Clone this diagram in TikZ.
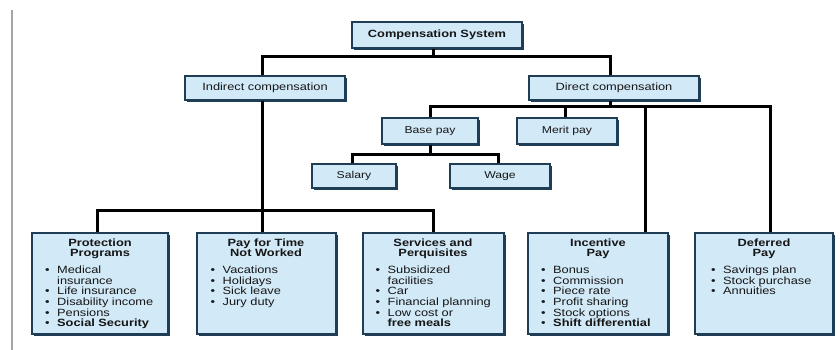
\documentclass[tikz,border=0pt]{standalone}
\usepackage{fontspec}
\newfontfamily\lab{Liberation Sans}[FakeStretch=1.22]
\usetikzlibrary{shadows}
\definecolor{boxblue}{HTML}{D2E9F7}
\definecolor{boxedge}{HTML}{1F3E56}
\definecolor{ink}{HTML}{161616}
\newcommand\bitem[1]{\par\hangindent=12pt\hangafter=1\noindent\makebox[12pt][l]{•}#1}
\begin{document}
\begin{tikzpicture}[x=1pt,y=-1pt,
  box/.style={draw=boxedge, fill=boxblue, line width=2pt,
    drop shadow={shadow xshift=2pt, shadow yshift=-2pt, fill=boxedge, opacity=1},
    inner sep=0pt, font=\lab\fontsize{10}{12}\selectfont, text=ink},
  bigbox/.style={box, minimum height=101pt},
  btitle/.style={anchor=north, inner sep=0pt, align=center, text=ink,
    font=\lab\bfseries\fontsize{10.5}{10.5}\selectfont},
  blist/.style={anchor=north west, inner sep=0pt, text=ink, font=\lab\fontsize{10.5}{10.7}\selectfont},
  wire/.style={line width=3pt, black}]
\useasboundingbox (0,0) rectangle (840,350);
\fill[white] (0,0) rectangle (840,350);
\draw[gray!70, line width=1.2pt] (12,10) -- (12,350);

% top levels
\node[box, minimum width=170pt, minimum height=26pt, font=\lab\bfseries\fontsize{10.5}{12}\selectfont] (comp) at (437,35) {Compensation System};
\node[box, minimum width=160pt, minimum height=24pt, font=\lab\fontsize{10.5}{12}\selectfont] (indirect) at (265,88) {Indirect compensation};
\node[box, minimum width=170pt, minimum height=24pt, font=\lab\fontsize{10.5}{12}\selectfont] (direct) at (614,88) {Direct compensation};
\node[box, minimum width=96pt, minimum height=25pt] (base) at (430,131) {Base pay};
\node[box, minimum width=100pt, minimum height=25pt] (merit) at (567,131) {Merit pay};
\node[box, minimum width=84pt, minimum height=24pt] (salary) at (354,176) {Salary};
\node[box, minimum width=100pt, minimum height=24pt] (wage) at (500,176) {Wage};

% bottom boxes
\node[bigbox, minimum width=136pt] (prot) at (100,283) {};
\node[bigbox, minimum width=139pt] (pay) at (266,283) {};
\node[bigbox, minimum width=141pt] (serv) at (433,283) {};
\node[bigbox, minimum width=140pt] (inc) at (598,283) {};
\node[bigbox, minimum width=138pt] (def) at (764,283) {};

\node[btitle] (protH) at ([yshift=-7pt]prot.north) {Protection\\Programs};
\node[blist, text width=118pt] (protT) at ([xshift=14pt,yshift=-31pt]prot.north west)
 {\raggedright\bitem{Medical\newline insurance}\bitem{Life insurance}\bitem{Disability income}
  \bitem{Pensions}\bitem{\bfseries Social Security}\par};
\node[btitle] (payH) at ([yshift=-7pt]pay.north) {Pay for Time\\Not Worked};
\node[blist, text width=118pt] (payT) at ([xshift=15pt,yshift=-31pt]pay.north west)
 {\raggedright\bitem{Vacations}\bitem{Holidays}\bitem{Sick leave}\bitem{Jury duty}\par};
\node[btitle] (servH) at ([yshift=-7pt]serv.north) {Services and\\Perquisites};
\node[blist, text width=122pt] (servT) at ([xshift=14pt,yshift=-31pt]serv.north west)
 {\raggedright\bitem{Subsidized\newline facilities}\bitem{Car}\bitem{Financial planning}
  \bitem{Low cost or\newline {\bfseries free meals}}\par};
\node[btitle] (incH) at ([yshift=-7pt]inc.north) {Incentive\\Pay};
\node[blist, text width=122pt] (incT) at ([xshift=14pt,yshift=-31pt]inc.north west)
 {\raggedright\bitem{Bonus}\bitem{Commission}\bitem{Piece rate}\bitem{Profit sharing}
  \bitem{Stock options}\bitem{\bfseries Shift differential}\par};
\node[btitle] (defH) at ([yshift=-7pt]def.north) {Deferred\\Pay};
\node[blist, text width=118pt] (defT) at ([xshift=17pt,yshift=-31pt]def.north west)
 {\raggedright\bitem{Savings plan}\bitem{Stock purchase}\bitem{Annuities}\par};

% connectors
\coordinate (j1) at (433,57);
\coordinate (j2) at (610,107);
\coordinate (j3) at (430,154);
\coordinate (j4) at (262,210);
\draw[wire] ([xshift=-4pt]comp.south) -- ([xshift=-4pt]comp.south |- j1);
\draw[wire] ([xshift=-3pt]indirect.north) |- (j1) -| ([xshift=-4pt]direct.north);
\draw[wire] ([xshift=-4pt]direct.south) -- (j2);
\draw[wire] (base.north) |- (j2) -| ([xshift=6pt]def.north);
\draw[wire] ([xshift=-2pt]merit.north) -- ([xshift=-2pt]merit.north |- j2);
\draw[wire] ([xshift=47pt]inc.north) -- ([xshift=47pt]inc.north |- j2);
\draw[wire] (base.south) -- (j3);
\draw[wire] ([xshift=-2pt]salary.north) |- (j3) -| ([xshift=-2pt]wage.north);
\draw[wire] ([xshift=-3pt]indirect.south) -- ([xshift=-3pt]indirect.south |- pay.north);
\draw[wire] ([xshift=-3pt]prot.north) |- (j4) -| (serv.north);
\end{tikzpicture}
\end{document}
